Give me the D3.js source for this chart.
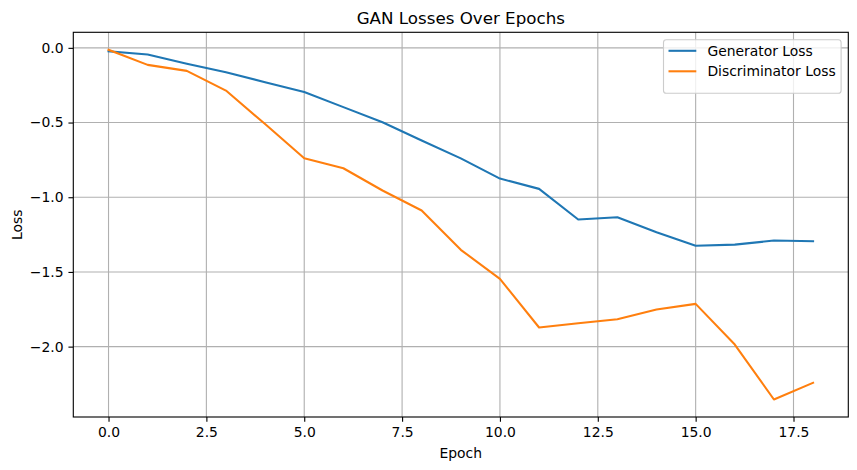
<!DOCTYPE html>
<html><head><meta charset="utf-8">
<script src="https://cdn.jsdelivr.net/npm/d3@7"></script>
<style>body{margin:0;background:#fff;} text{font-family:"DejaVu Sans",sans-serif;fill:#000;}</style>
</head><body><svg id="c" width="857" height="470"></svg>
<script>
const epochs = [0,1,2,3,4,5,6,7,8,9,10,11,12,13,14,15,16,17,18];
const generatorLoss = [-0.023,-0.045,-0.107,-0.163,-0.23,-0.295,-0.397,-0.498,-0.62,-0.74,-0.875,-0.944,-1.149,-1.134,-1.234,-1.325,-1.317,-1.29,-1.294];
const discriminatorLoss = [-0.013,-0.114,-0.154,-0.286,-0.51,-0.739,-0.806,-0.955,-1.089,-1.352,-1.546,-1.872,-1.843,-1.817,-1.752,-1.714,-1.986,-2.354,-2.242];
const xTicks = [0,2.5,5,7.5,10,12.5,15,17.5];
const yTicks = [0,-0.5,-1,-1.5,-2];
const seriesNames = ["Generator Loss","Discriminator Loss"];
const colors = ["#1f77b4","#ff7f0e"];

const L=73.3,R=848.3,T=32.3,B=417;
const FS=13.9, LW=2.08, GW=1.11;
const svg=d3.select("#c");
const xr=d3.extent(epochs), xp=(xr[1]-xr[0])*0.05;
const x=d3.scaleLinear().domain([xr[0]-xp,xr[1]+xp]).range([L,R]);
const all=generatorLoss.concat(discriminatorLoss);
const yr=d3.extent(all), yp=(yr[1]-yr[0])*0.05;
const y=d3.scaleLinear().domain([yr[0]-yp,yr[1]+yp]).range([B,T]);
const fmt=v=>(v<0?"\u2212":"")+Math.abs(v).toFixed(1);

// grid
const g=svg.append("g");
g.selectAll("line.gx").data(xTicks).join("line").attr("x1",d=>x(d)).attr("x2",d=>x(d)).attr("y1",T).attr("y2",B).attr("stroke","#b0b0b0").attr("stroke-width",GW);
g.selectAll("line.gy").data(yTicks).join("line").attr("y1",d=>y(d)).attr("y2",d=>y(d)).attr("x1",L).attr("x2",R).attr("stroke","#b0b0b0").attr("stroke-width",GW);

// lines
const series=[generatorLoss,discriminatorLoss];
const line=d3.line().x((d,i)=>x(epochs[i])).y(d=>y(d));
svg.append("clipPath").attr("id","cp").append("rect").attr("x",L).attr("y",T).attr("width",R-L).attr("height",B-T);
series.forEach((s,k)=>{
  svg.append("path").datum(s).attr("d",line).attr("fill","none").attr("stroke",colors[k]).attr("stroke-width",LW).attr("stroke-linejoin","round").attr("stroke-linecap","square").attr("clip-path","url(#cp)");
});

// axes
const xa=svg.append("g").attr("transform",`translate(0,${B})`).call(d3.axisBottom(x).tickValues(xTicks).tickFormat(d=>d.toFixed(1)).tickSize(4.86).tickPadding(4.86));
const ya=svg.append("g").attr("transform",`translate(${L},0)`).call(d3.axisLeft(y).tickValues(yTicks).tickFormat(fmt).tickSize(4.86).tickPadding(4.86));
[xa,ya].forEach(a=>{a.select(".domain").remove();a.selectAll("line").attr("stroke","#000").attr("stroke-width",GW);a.selectAll("text").attr("font-size",FS+"px").attr("font-family","DejaVu Sans").attr("fill","#000");});

// frame
svg.append("rect").attr("x",L).attr("y",T).attr("width",R-L).attr("height",B-T).attr("fill","none").attr("stroke","#000").attr("stroke-width",GW);

// labels
svg.append("text").attr("x",(L+R)/2).attr("y",24).attr("text-anchor","middle").attr("font-size","16.7px").text("GAN Losses Over Epochs");
svg.append("text").attr("x",(L+R)/2).attr("y",458).attr("text-anchor","middle").attr("font-size",FS+"px").text("Epoch");
svg.append("text").attr("transform",`translate(22,${(T+B)/2}) rotate(-90)`).attr("text-anchor","middle").attr("font-size",FS+"px").text("Loss");

// legend
const lg=svg.append("g");
lg.append("rect").attr("x",663.5).attr("y",39.8).attr("width",177.6).attr("height",53.5).attr("rx",2.8).attr("fill","#fff").attr("fill-opacity",0.8).attr("stroke","#cccccc").attr("stroke-width",GW);
seriesNames.forEach((n,k)=>{
  const cy=50.8+k*20.5;
  lg.append("line").attr("x1",668.5).attr("x2",696.3).attr("y1",cy).attr("y2",cy).attr("stroke",colors[k]).attr("stroke-width",LW);
  lg.append("text").attr("x",707.4).attr("y",cy+5).attr("font-size",FS+"px").text(n);
});
</script></body></html>
